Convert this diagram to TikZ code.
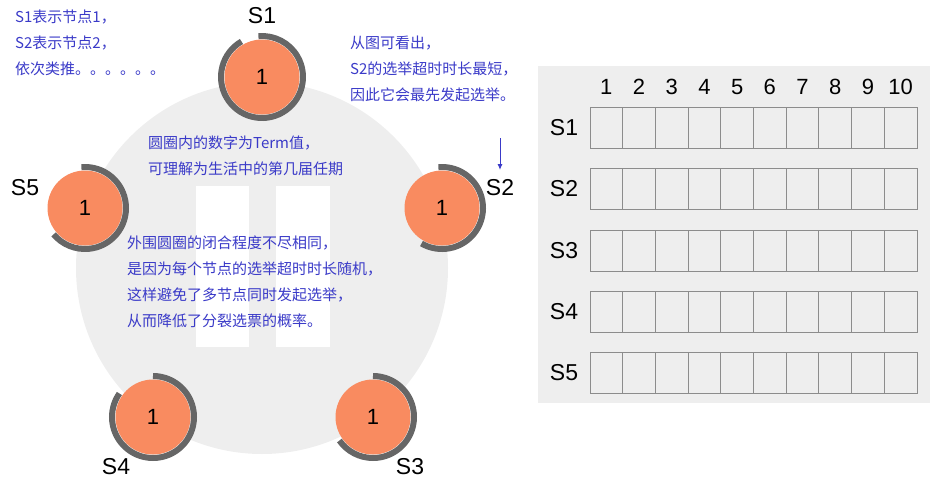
\documentclass[tikz,border=0pt]{standalone}
\usepackage{fontspec}
\usetikzlibrary{arrows.meta}
\setmainfont{Liberation Sans}
\newfontfamily\cjk{Noto Sans CJK SC}
\definecolor{orng}{HTML}{F98B60}
\definecolor{ringc}{HTML}{666666}
\definecolor{bgc}{HTML}{EEEEEE}
\definecolor{bluet}{HTML}{3A3AC8}
\begin{document}
\begin{tikzpicture}[x=1pt,y=-1pt,
  srv/.style={circle,fill=orng,minimum size=75pt,inner sep=0pt,font=\fontsize{22}{24}\selectfont},
  lbl/.style={font=\fontsize{23}{25}\selectfont,inner sep=0pt},
  note/.style={text=bluet,font=\cjk\fontsize{15}{26}\selectfont,align=left,anchor=north west,inner sep=0pt},
  ring/.style={draw=ringc,line width=6pt},
  cell/.style={draw=gray!90,line width=1pt,minimum width=32.7pt,minimum height=41pt,inner sep=0pt}]
\useasboundingbox (0,0) rectangle (938,491);
% background circle with pause bars
\fill[bgc] (262,268) circle (186pt);
\fill[white] (196,186) rectangle (249,347);
\fill[white] (276,186) rectangle (330,347);
% servers
\node[srv] (s1) at (262,77) {1};
\node[srv] (s2) at (442,208) {1};
\node[srv] (s3) at (373,417) {1};
\node[srv] (s4) at (153,417) {1};
\node[srv] (s5) at (85,208) {1};
\draw[ring] ([shift={(120:41pt)}]s1.center) arc[start angle=120,end angle=455,radius=41pt];
\draw[ring] ([shift={(95:41pt)}]s2.center) arc[start angle=95,end angle=-120,radius=41pt];
\draw[ring] ([shift={(90:41pt)}]s3.center) arc[start angle=90,end angle=-145,radius=41pt];
\draw[ring] ([shift={(90:41pt)}]s4.center) arc[start angle=90,end angle=-215,radius=41pt];
\draw[ring] ([shift={(95:41pt)}]s5.center) arc[start angle=95,end angle=-140,radius=41pt];
\node[lbl] (l1) at (262,16) {S1};
\node[lbl] (l2) at (500,188) {S2};
\node[lbl] (l3) at (410,467) {S3};
\node[lbl] (l4) at (116,467) {S4};
\node[lbl] (l5) at (25,188) {S5};
% notes
\node[note] (n1) at (15,10) {S1表示节点1，\\S2表示节点2，\\依次类推。。。。。。};
\node[note] (n2) at (350,36) {从图可看出，\\S2的选举超时时长最短，\\因此它会最先发起选举。};
\node[note] (n3) at (148,136) {圆圈内的数字为Term值，\\可理解为生活中的第几届任期};
\node[note] (n4) at (127,236) {外围圆圈的闭合程度不尽相同，\\是因为每个节点的选举超时时长随机，\\这样避免了多节点同时发起选举，\\从而降低了分裂选票的概率。};
\coordinate (a1) at (500,138);
\coordinate (a2) at (500,170);
\draw[bluet,line width=1pt,-{Latex[length=6pt,width=5pt]}] (a1) -- (a2);
% grid
\fill[bgc] (538,66) rectangle (930,403);
\foreach \c in {1,...,10} {
  \node[font=\fontsize{22}{24}\selectfont] (h\c) at ({590+32.7*(\c-0.5)},87) {\c};
}
\foreach \r/\y in {1/127.5,2/189,3/250.5,4/311.5,5/372.5} {
  \node[lbl] (r\r) at (564,\y) {S\r};
  \foreach \c in {1,...,10} {
    \node[cell] (c\r-\c) at ({590+32.7*(\c-0.5)},\y) {};
  }
}
\end{tikzpicture}
\end{document}
